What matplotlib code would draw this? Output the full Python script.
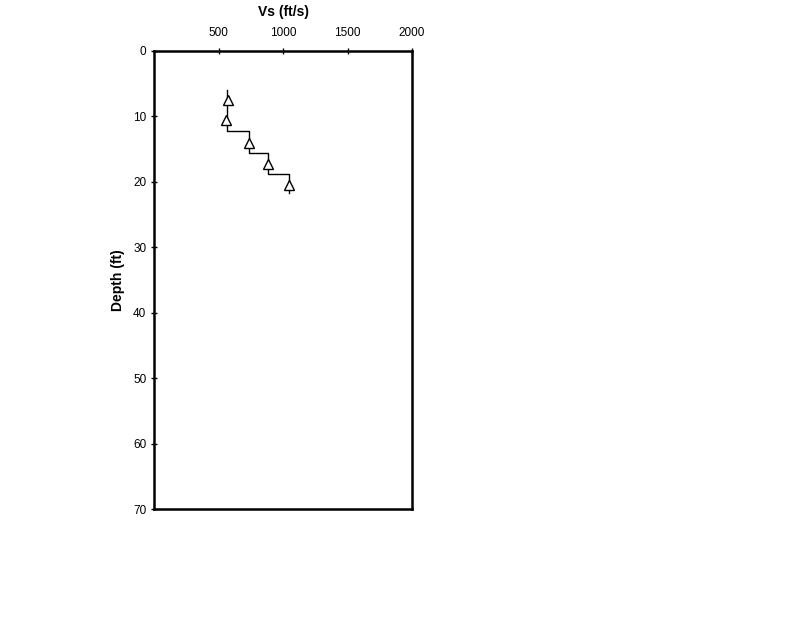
import matplotlib
matplotlib.use("Agg")
import matplotlib.pyplot as plt

plt.rcParams['font.family'] = ['Liberation Sans', 'DejaVu Sans']

# Step profile (Vs, depth)
profile_vs = [565, 565, 735, 735, 880, 880, 1045, 1045]
profile_depth = [6.0, 12.2, 12.2, 15.6, 15.6, 18.8, 18.8, 21.7]

# Measured points
point_vs = [570, 555, 735, 880, 1045]
point_depth = [7.5, 10.5, 14.1, 17.2, 20.4]

x_ticks = [500, 1000, 1500, 2000]
y_ticks = [0, 10, 20, 30, 40, 50, 60, 70]

fig = plt.figure(figsize=(8, 6.18), dpi=100)
ax = fig.add_axes([0.1925, 0.176, 0.3225, 0.7415])

ax.plot(profile_vs, profile_depth, color='black', lw=1.0)
ax.plot(point_vs, point_depth, linestyle='none', marker='^', markersize=7,
        markerfacecolor='white', markeredgecolor='black', markeredgewidth=1.0)

ax.set_xlim(0, 2000)
ax.set_ylim(70, 0)
ax.xaxis.tick_top()
ax.xaxis.set_label_position('top')
ax.set_xticks(x_ticks)
ax.set_yticks(y_ticks)
ax.tick_params(axis='both', direction='inout', length=5, width=1.0, labelsize=8.5, pad=3)
ax.tick_params(axis='x', pad=6)
ax.set_xlabel('Vs (ft/s)', fontweight='bold', fontsize=10, labelpad=8)
ax.set_ylabel('Depth (ft)', fontweight='bold', fontsize=10, labelpad=6)
for s in ax.spines.values():
    s.set_linewidth(1.8)

fig.savefig('out.png', dpi=100)
